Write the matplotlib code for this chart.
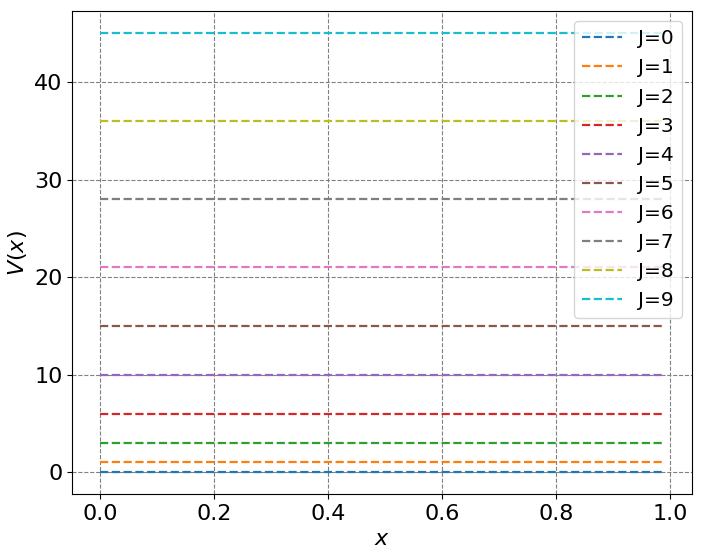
import numpy as np
import matplotlib
matplotlib.use("Agg")
import matplotlib.pyplot as plt

J_values = [0, 1, 2, 3, 4, 5, 6, 7, 8, 9]
V_levels = [0, 1, 3, 6, 10, 15, 21, 28, 36, 45]
x = np.arange(0, 1, 0.01)

fig = plt.figure(figsize=(7.03, 5.54), dpi=100)
ax = fig.add_axes([0.1028, 0.1083, 0.882, 0.8713])
for J, V in zip(J_values, V_levels):
    ax.plot(x, np.full_like(x, V, dtype=float), '--', lw=1.6, label=f"J={J}")

ax.grid(True, color='gray', linestyle='--', linewidth=0.8)
ax.set_xlabel(r"$x$", fontsize=16)
ax.set_ylabel(r"$V(x)$", fontsize=16)
ax.tick_params(labelsize=16)
ax.legend(fontsize=14.5, loc='upper right')
fig.savefig("out.png", dpi=100)
